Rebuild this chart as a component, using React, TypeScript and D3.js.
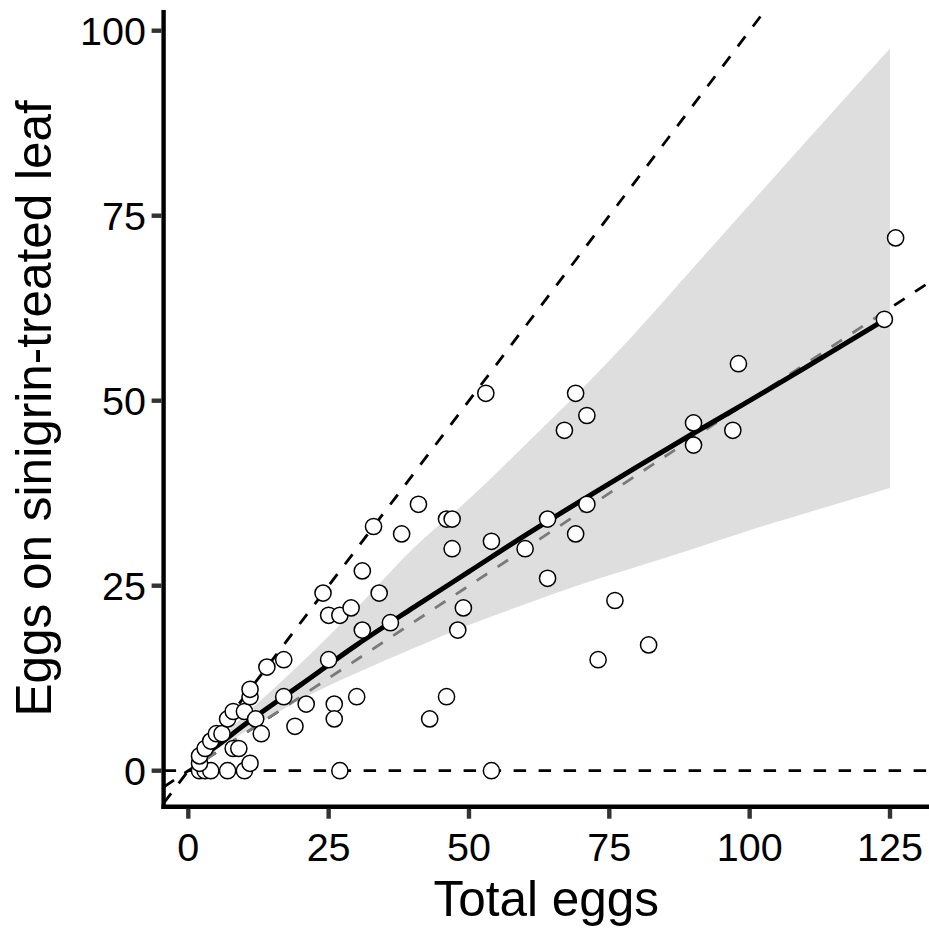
import React from 'react';
import * as d3 from 'd3';

// Observed points (Total eggs, Eggs on sinigrin-treated leaf)
const totalEggs = [2, 3, 4, 7, 10, 2, 2, 3, 4, 5, 6, 8, 9, 11, 7, 8, 10, 12, 13, 11, 11, 14, 17, 17, 19, 21, 25, 26, 26, 30, 24, 25, 27, 29, 31, 31, 33, 34, 36, 38, 41, 46, 47, 47, 49, 48, 43, 46, 27, 54, 53, 54, 60, 64, 64, 67, 69, 71, 69, 71, 76, 73, 82, 90, 90, 97, 98, 124, 126];
const treatedEggs = [0, 0, 0, 0, 0, 1, 2, 3, 4, 5, 5, 3, 3, 1, 7, 8, 8, 7, 5, 10, 11, 14, 10, 15, 6, 9, 15, 9, 7, 10, 24, 21, 21, 22, 19, 27, 33, 24, 20, 32, 36, 34, 34, 30, 22, 19, 7, 10, 0, 0, 51, 31, 30, 34, 26, 46, 51, 48, 32, 36, 23, 15, 17, 47, 44, 46, 55, 61, 72];

// Fitted curve
const fitTotal = [2, 5, 10, 20, 30, 40, 50, 60, 70, 80, 90, 100, 110, 124];
const fitTreated = [1.7, 3.3, 6.2, 11.6, 17.0, 22.0, 26.9, 31.8, 36.5, 41.1, 45.6, 50.0, 54.5, 60.9];

// Confidence band
const bandTotal = [2, 5, 10, 20, 30, 40, 50, 60, 70, 80, 90, 100, 110, 125];
const bandLower = [1.3, 2.8, 5.2, 9.6, 13.2, 16.5, 19.7, 22.5, 25.2, 27.6, 30.0, 32.5, 34.8, 38.2];
const bandUpper = [2.2, 4.0, 7.5, 14.5, 22.0, 30.0, 36.7, 44.0, 51.5, 59.5, 68.0, 76.5, 85.0, 97.6];

// Reference lines
const refSlopes = [1, 0.5];
const refHLine = 0;
const grayRefSlope = 0.5;
const grayRefRange = [2, 124];

const xTicks = [0, 25, 50, 75, 100, 125];
const yTicks = [0, 25, 50, 75, 100];
const xTitle = 'Total eggs';
const yTitle = 'Eggs on sinigrin-treated leaf';

const FONT = "'Liberation Sans', Arial, Helvetica, sans-serif";

export default function App() {
  const W = 929;
  const H = 930;
  const x = d3.scaleLinear().domain([0, 125]).range([188.3, 890]);
  const y = d3.scaleLinear().domain([0, 100]).range([770.7, 30.7]);
  const L = 163.6;
  const R = 929;
  const T = 10;
  const B = 806.7;
  const xLo = x.invert(L);
  const xHi = x.invert(R + 10);

  const line = d3
    .line<[number, number]>()
    .x((d) => x(d[0]))
    .y((d) => y(d[1]));

  const area = d3
    .area<number>()
    .x((_, i) => x(bandTotal[i]))
    .y0((_, i) => y(bandLower[i]))
    .y1((_, i) => y(bandUpper[i]))
    .curve(d3.curveMonotoneX);

  const fitLine = d3
    .line<number>()
    .x((_, i) => x(fitTotal[i]))
    .y((d) => y(d))
    .curve(d3.curveMonotoneX);

  const dash = '12.5,12.5';
  const dashW = 2.8;

  // gray dashed line phase-aligned with black slope-0.5 line
  const p0 = [x(xLo), y(grayRefSlope * xLo)];
  const p1 = [x(grayRefRange[0]), y(grayRefSlope * grayRefRange[0])];
  const grayOffset = Math.hypot(p1[0] - p0[0], p1[1] - p0[1]);

  return (
    <svg
      width={W}
      height={H}
      style={{ position: 'absolute', left: 0, top: 0, background: '#fff' }}
      fontFamily={FONT}
    >
      <defs>
        <clipPath id="panel">
          <rect x={L} y={T} width={R - L + 5} height={B - T} />
        </clipPath>
      </defs>
      <rect x={0} y={0} width={W} height={H} fill="#fff" />
      <g clipPath="url(#panel)">
        {/* horizontal zero line */}
        <path
          d={line([
            [xLo, refHLine],
            [xHi, refHLine],
          ]) || ''}
          stroke="#000"
          strokeWidth={dashW}
          strokeDasharray={dash}
          fill="none"
        />
        {refSlopes.map((s) => (
          <path
            key={s}
            d={line([
              [xLo, s * xLo],
              [xHi, s * xHi],
            ]) || ''}
            stroke="#000"
            strokeWidth={dashW}
            strokeDasharray={dash}
            fill="none"
          />
        ))}
        {/* confidence band */}
        <path d={area(bandLower) || ''} fill="#dedede" stroke="none" />
        {/* gray dashed reference */}
        <path
          d={line([
            [grayRefRange[0], grayRefSlope * grayRefRange[0]],
            [grayRefRange[1], grayRefSlope * grayRefRange[1]],
          ]) || ''}
          stroke="#7a7a7a"
          strokeWidth={dashW}
          strokeDasharray={dash}
          strokeDashoffset={grayOffset}
          fill="none"
        />
        {/* fitted curve */}
        <path d={fitLine(fitTreated) || ''} stroke="#000" strokeWidth={5} fill="none" />
        {/* points */}
        {totalEggs.map((t, i) => (
          <circle
            key={i}
            cx={x(t)}
            cy={y(treatedEggs[i])}
            r={8.1}
            fill="#fff"
            stroke="#000"
            strokeWidth={1.5}
          />
        ))}
      </g>

      {/* axes */}
      <line x1={L} x2={L} y1={T} y2={B + 2.2} stroke="#000" strokeWidth={4.4} />
      <line x1={L - 2.2} x2={R} y1={B} y2={B} stroke="#000" strokeWidth={4.4} />
      {yTicks.map((t) => (
        <g key={'y' + t}>
          <line x1={L - 12} x2={L - 2} y1={y(t)} y2={y(t)} stroke="#333" strokeWidth={4.4} />
          <text
            x={146}
            y={y(t)}
            textAnchor="end"
            dominantBaseline="central"
            fontSize={39.5}
            fill="#000"
          >
            {t}
          </text>
        </g>
      ))}
      {xTicks.map((t) => (
        <g key={'x' + t}>
          <line x1={x(t)} x2={x(t)} y1={B + 2} y2={B + 12} stroke="#333" strokeWidth={4.4} />
          <text x={x(t)} y={861} textAnchor="middle" fontSize={39.5} fill="#000">
            {t}
          </text>
        </g>
      ))}
      <text x={(L + R) / 2} y={916} textAnchor="middle" fontSize={49.5} fill="#000">
        {xTitle}
      </text>
      <text
        transform={`translate(50.5, ${(T + B) / 2}) rotate(-90)`}
        textAnchor="middle"
        fontSize={49.5}
        fill="#000"
      >
        {yTitle}
      </text>
    </svg>
  );
}
